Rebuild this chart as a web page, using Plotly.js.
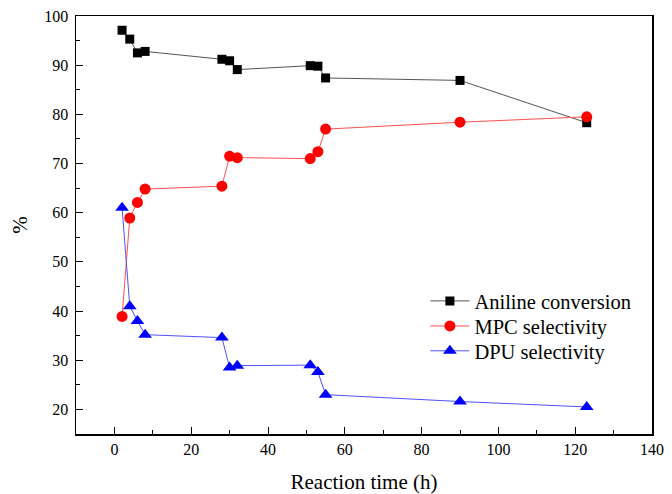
<!DOCTYPE html>
<html>
<head>
<meta charset="utf-8">
<script src="https://cdn.plot.ly/plotly-3.0.1.min.js"></script>
<style>html,body{margin:0;padding:0;background:#fff;}#chart{width:672px;height:494px;}</style>
</head>
<body>
<div id="chart"></div>
<script>
const time = [2, 4, 6, 8, 28, 30, 32, 51, 53, 55, 90, 123];
const anilineConversion = [97.1, 95.3, 92.5, 92.8, 91.2, 90.9, 89.1, 89.9, 89.8, 87.4, 86.9, 78.3];
const mpcSelectivity = [38.9, 58.9, 62.1, 64.8, 65.4, 71.5, 71.2, 71.0, 72.4, 77.0, 78.4, 79.5];
const dpuSelectivity = [61.0, 41.0, 38.0, 35.2, 34.6, 28.5, 28.9, 29.0, 27.6, 23.0, 21.6, 20.5];
const seriesNames = ["Aniline conversion", "MPC selectivity", "DPU selectivity"];

const font = "Liberation Serif";
const traces = [
  {x: time, y: anilineConversion, name: seriesNames[0], mode: "lines+markers", legend: "legend",
   line: {color: "#555555", width: 1}, marker: {symbol: "square", size: 9, color: "#000000"}},
  {x: time, y: mpcSelectivity, name: seriesNames[1], mode: "lines+markers", legend: "legend2",
   line: {color: "#ff5050", width: 1}, marker: {symbol: "circle", size: 11, color: "#ff0000"}},
  {x: time, y: dpuSelectivity, name: seriesNames[2], mode: "lines+markers", legend: "legend3",
   line: {color: "#5050ff", width: 1}, marker: {symbol: "triangle-up", size: 12, color: "#0000ff"}}
];
function legendAt(y) {
  return {x: 0.6066, y: y, xanchor: "left", yanchor: "middle", bgcolor: "rgba(0,0,0,0)",
          itemwidth: 39, font: {family: font, size: 20.5, color: "#000"}};
}
const axisBase = {
  showline: true, mirror: true, linecolor: "#000", linewidth: 1.5,
  ticks: "inside", ticklen: 7, tickwidth: 1, tickcolor: "#000",
  showgrid: false, zeroline: false,
  tickfont: {family: font, size: 16, color: "#000"}
};
const layout = {
  width: 672, height: 494,
  margin: {l: 76, r: 20, t: 16, b: 60},
  paper_bgcolor: "#fff", plot_bgcolor: "#fff",
  font: {family: font, color: "#000", size: 16},
  xaxis: Object.assign({}, axisBase, {
    range: [-10, 140], dtick: 20, tick0: 0,
    minor: {dtick: 10, ticks: "inside", ticklen: 4, tickcolor: "#000"},
    title: {text: "Reaction time (h)", font: {family: font, size: 21, color: "#000"}, standoff: 17}
  }),
  yaxis: Object.assign({}, axisBase, {
    range: [15, 100], dtick: 10, tick0: 0, ticklabelstandoff: 3,
    minor: {dtick: 5, ticks: "inside", ticklen: 4, tickcolor: "#000"},
    title: {text: "%", font: {family: font, size: 21, color: "#000"}, standoff: 11}
  }),
  showlegend: true,
  legend: legendAt(0.318),
  legend2: legendAt(0.258),
  legend3: legendAt(0.1986)
};
Plotly.newPlot("chart", traces, layout, {staticPlot: true, displayModeBar: false});
</script>
</body>
</html>
